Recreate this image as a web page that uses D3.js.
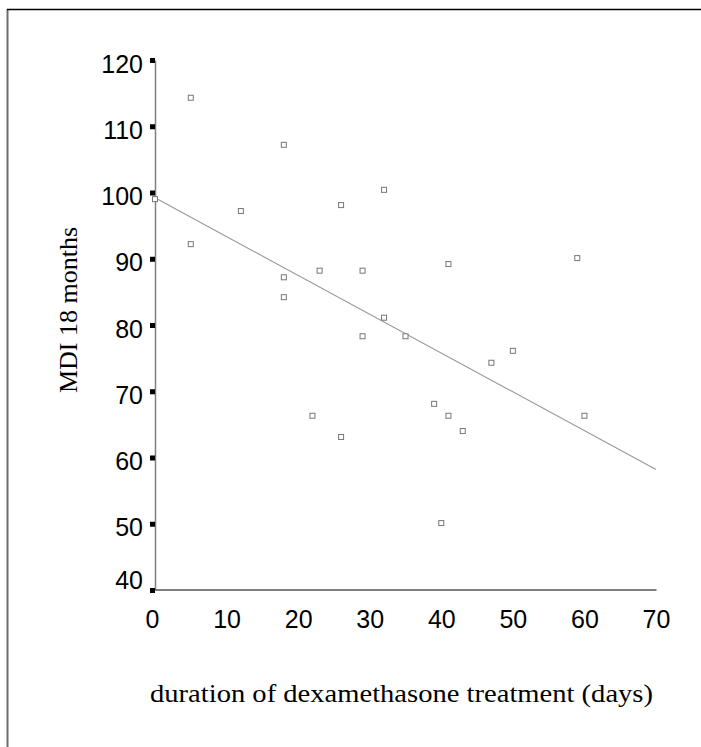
<!DOCTYPE html>
<html>
<head>
<meta charset="utf-8">
<script src="https://cdn.jsdelivr.net/npm/d3@7"></script>
<style>
  body { margin: 0; background: #fff; }
  svg { display: block; }
</style>
</head>
<body>
<div id="chart"></div>
<script>
// MDI at 18 months vs. duration of dexamethasone treatment
const durationDays = [0, 5, 5, 12, 18, 18, 18, 22, 23, 26, 26, 29, 29, 32, 32, 35, 39, 40, 41, 41, 43, 47, 50, 59, 60];
const mdiScores    = [99, 114.3, 92.2, 97.2, 107.2, 87.2, 84.2, 66.3, 88.2, 98.1, 63.1, 88.2, 78.3, 100.4, 81.1, 78.3, 68.1, 50.1, 89.2, 66.3, 64, 74.3, 76.1, 90.1, 66.3];
const fitX = [0, 70];
const fitY = [99.2, 58.2];
const xTicks = [0, 10, 20, 30, 40, 50, 60, 70];
const yTicks = [40, 50, 60, 70, 80, 90, 100, 110, 120];

const W = 701, H = 747;
const svg = d3.select("#chart").append("svg")
  .attr("width", W).attr("height", H);

svg.append("rect").attr("width", W).attr("height", H).attr("fill", "#fff");

// frame: only left and top edges visible
svg.append("line")
  .attr("x1", 7.5).attr("x2", 7.5).attr("y1", 9).attr("y2", H)
  .attr("stroke", "#6e6e6e").attr("stroke-width", 2);
svg.append("line")
  .attr("x1", 7).attr("x2", W).attr("y1", 9.5).attr("y2", 9.5)
  .attr("stroke", "#000").attr("stroke-width", 1.5);

const x = d3.scaleLinear().domain([0, 70]).range([155, 656]);
const y = d3.scaleLinear().domain([40, 120]).range([590, 60]);

// y axis
const yAxis = svg.append("g").attr("transform", "translate(155,0)")
  .call(d3.axisLeft(y).tickValues(yTicks).tickSizeInner(5).tickSizeOuter(0).tickPadding(7));
yAxis.select(".domain").attr("stroke", "#808080").attr("stroke-width", 1.5);
yAxis.selectAll(".tick line").attr("stroke", "#000").attr("stroke-width", 5);
yAxis.selectAll(".tick text")
  .attr("font-family", "Liberation Sans, Arial, sans-serif")
  .attr("font-size", "25px").attr("fill", "#000")
  .attr("dy", d => d === 40 ? "-0.05em" : "0.48em");

// x axis
const xAxis = svg.append("g").attr("transform", "translate(0,589.5)")
  .call(d3.axisBottom(x).tickValues(xTicks).tickSize(0).tickSizeOuter(0));
xAxis.select(".domain").attr("stroke", "#000").attr("stroke-width", 1.2);
xAxis.selectAll(".tick text")
  .attr("font-family", "Liberation Sans, Arial, sans-serif")
  .attr("font-size", "25px").attr("fill", "#000")
  .attr("y", 38.5).attr("dy", 0)
  .attr("dx", d => d === 0 ? -3 : 0);

// regression line
svg.append("line")
  .attr("x1", x(fitX[0])).attr("y1", y(fitY[0]))
  .attr("x2", x(fitX[1])).attr("y2", y(fitY[1]))
  .attr("stroke", "#999").attr("stroke-width", 1.1);

// points
const pts = durationDays.map((d, i) => ({ d, m: mdiScores[i] }));
svg.append("g").selectAll("rect").data(pts).join("rect")
  .attr("x", p => x(p.d) - 2.5).attr("y", p => y(p.m) - 2.5)
  .attr("width", 5).attr("height", 5)
  .attr("fill", "#fff").attr("stroke", "#777").attr("stroke-width", 1);

// axis titles
svg.append("text")
  .attr("transform", "translate(77,310) rotate(-90)")
  .attr("text-anchor", "middle")
  .attr("font-family", "Liberation Serif, Times New Roman, serif")
  .attr("font-size", "26px").attr("fill", "#000")
  .text("MDI 18 months");

svg.append("text")
  .attr("x", 150).attr("y", 701.5)
  .attr("textLength", 503).attr("lengthAdjust", "spacingAndGlyphs")
  .attr("font-family", "Liberation Serif, Times New Roman, serif")
  .attr("font-size", "25px").attr("fill", "#000")
  .text("duration of dexamethasone treatment (days)");
</script>
</body>
</html>
